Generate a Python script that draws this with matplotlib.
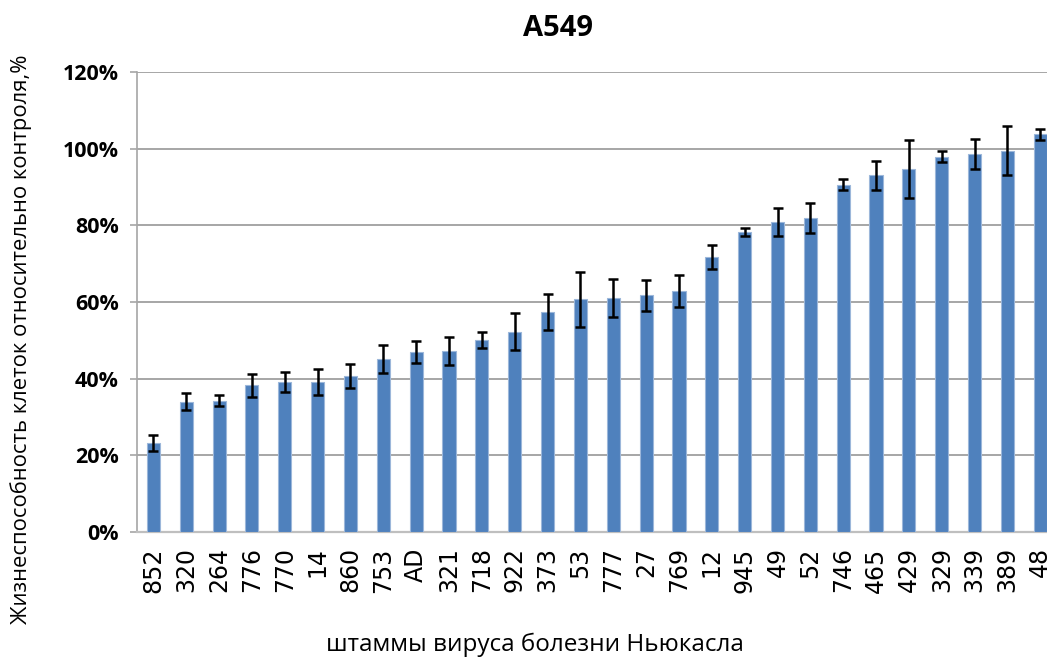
import numpy as np
import matplotlib
matplotlib.use("Agg")
import matplotlib.pyplot as plt
from matplotlib.ticker import PercentFormatter

strains = ["852", "320", "264", "776", "770", "14", "860", "753", "AD", "321",
           "718", "922", "373", "53", "777", "27", "769", "12", "945", "49",
           "52", "746", "465", "429", "329", "339", "389", "48"]
viability = [23.2, 34.0, 34.3, 38.3, 39.1, 39.1, 40.7, 45.1, 47.0, 47.2,
             50.1, 52.3, 57.4, 60.7, 61.0, 61.7, 62.9, 71.7, 78.3, 80.8,
             81.9, 90.6, 93.0, 94.6, 97.9, 98.6, 99.5, 103.7]
errors = [2.0, 2.2, 1.4, 3.0, 2.6, 3.3, 3.2, 3.6, 2.8, 3.7,
          2.2, 4.7, 4.6, 7.1, 5.0, 4.1, 4.2, 3.2, 1.1, 3.7,
          3.8, 1.5, 3.8, 7.6, 1.4, 3.9, 6.3, 1.4]

fig = plt.figure(figsize=(10.47, 6.58), dpi=100)
# plot area runs a little past the right edge, so the last bar is cut
ax = fig.add_axes([0.1308, 0.1915, 0.8785, 0.6991])

x = np.arange(len(strains))
ax.bar(x, viability, width=0.4, color="#4F81BD", edgecolor="#9CB7DA",
       linewidth=0.8, zorder=3)
ax.errorbar(x, viability, yerr=errors, fmt="none", ecolor="black",
            elinewidth=1.8, capsize=3.8, capthick=1.8, zorder=4)

ax.set_xlim(-0.5, len(strains) - 0.5)
ax.set_ylim(0, 120)
ax.set_yticks(np.arange(0, 121, 20))
ax.yaxis.set_major_formatter(PercentFormatter(decimals=0))
ax.grid(axis="y", color="#A6A6A6", linewidth=1.4, zorder=0)

for side in ["top", "right"]:
    ax.spines[side].set_visible(False)
ax.spines["left"].set_color("#A6A6A6")
ax.spines["bottom"].set_color("#BFBFBF")
ax.spines["left"].set_linewidth(1.2)
ax.spines["bottom"].set_linewidth(1.6)

ax.tick_params(axis="y", length=5, color="#A6A6A6", width=1.2, pad=8)
ax.tick_params(axis="x", length=0, pad=11)
ax.set_xticks(x)
ax.set_xticklabels(strains, rotation=90, fontsize=17, family="DejaVu Sans")
for lbl in ax.get_yticklabels():
    lbl.set_fontfamily("Open Sans")
    lbl.set_fontweight("bold")
    lbl.set_fontsize(15.5)

fig.text(0.533, 0.957, "A549", ha="center", va="center",
         fontsize=21, fontweight="bold", family="Open Sans")
fig.text(0.511, 0.02, "штаммы вируса болезни Ньюкасла", ha="center",
         va="center", fontsize=17.5, family="Open Sans")
fig.text(0.02, 0.485, "Жизнеспособность клеток относительно контроля,%",
         ha="center", va="center", rotation=90, fontsize=15.8,
         family="Open Sans")

fig.savefig("out.png", dpi=100)
